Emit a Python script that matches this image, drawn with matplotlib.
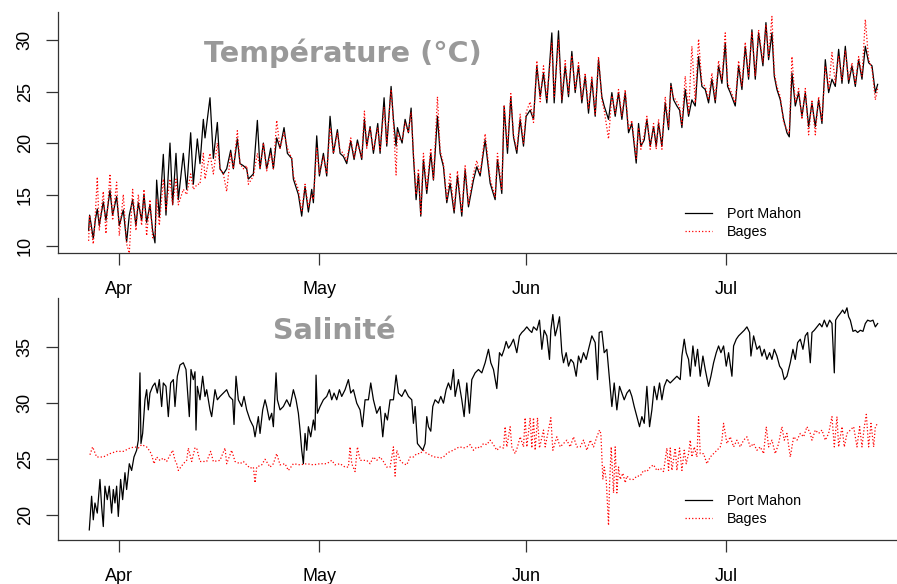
import matplotlib
matplotlib.use("Agg")
import matplotlib.pyplot as plt
import matplotlib.dates as mdates
import numpy as np
import pandas as pd

# --- temperature, days since 1 April ---
temp_days = [-4.6, -4.45, -4.2, -3.9, -3.6, -3.3, -3.0, -2.4, -2.0, -1.4, -1.0, -0.4, 0.0, 0.6, 1.1, 1.5,
             2.0, 2.5, 2.85, 3.35, 3.7, 4.1, 4.6, 5.0, 5.35, 5.6, 6.0, 6.6, 7.0, 7.6, 8.0, 8.5, 8.85, 9.6,
             10.1, 10.7, 11.1, 11.7, 12.1, 12.6, 12.85, 13.6, 14.1, 14.7, 15.1, 15.6, 16.1, 16.7, 17.1, 17.7,
             18.1, 18.6, 19.1, 19.35, 20.1, 20.7, 21.1, 21.6, 22.1, 22.7, 23.1, 23.6, 24.1, 24.7, 25.2, 25.85,
             26.1, 26.85, 27.35, 27.85, 28.35, 28.85, 29.1, 29.6, 30.0, 30.6, 31.1, 31.6, 32.1, 32.7, 33.1,
             33.6, 34.1, 34.7, 35.2, 35.7, 36.35, 36.75, 37.1, 37.6, 38.1, 38.75, 39.1, 39.7, 40.1, 40.75,
             41.1, 41.5, 41.7, 42.1, 42.4, 42.85, 43.35, 43.75, 44.1, 44.5, 44.85, 45.2, 45.6, 46.1, 46.7,
             47.1, 47.7, 48.1, 48.6, 49.1, 49.6, 50.2, 50.7, 51.35, 51.85, 52.35, 53.1, 53.6, 54.1, 54.85,
             55.6, 56.35, 56.7, 57.35, 57.7, 58.2, 58.7, 59.1, 59.6, 60.1, 60.6, 61.0, 61.6, 62.1, 62.6,
             63.1, 63.6, 64.1, 64.85, 65.2, 65.85, 66.35, 66.85, 67.35, 67.85, 68.35, 68.85, 69.35, 69.85,
             70.35, 70.85, 71.35, 71.85, 72.35, 72.7, 73.35, 73.85, 74.35, 74.85, 75.35, 75.85, 76.35, 76.85,
             77.5, 77.85, 78.2, 78.7, 79.1, 79.6, 80.1, 80.5, 80.85, 81.35, 81.85, 82.35, 82.7, 83.1, 83.6,
             84.0, 84.35, 84.85, 85.35, 85.85, 86.35, 86.85, 87.35, 87.85, 88.35, 88.85, 89.35, 89.85, 90.35,
             90.85, 91.2, 91.6, 92.35, 92.85, 93.35, 93.85, 94.35, 94.85, 95.35, 95.85, 96.5, 96.95, 97.35,
             97.85, 98.2, 98.6, 99.1, 99.6, 100.1, 100.45, 100.85, 101.35, 101.85, 102.35, 102.85, 103.35,
             103.85, 104.35, 104.85, 105.35, 105.85, 106.35, 106.85, 107.35, 107.85, 108.35, 108.85, 109.35,
             109.85, 110.35, 110.85, 111.35, 111.85, 112.35, 112.85, 113.35, 113.7]

temp_mahon = [11.5, 13.0, 12.0, 10.7, 12.5, 13.6, 12.0, 14.3, 12.5, 15.4, 13.0, 14.8, 12.0, 13.5, 10.4, 13.0,
              14.5, 12.0, 14.2, 12.5, 15.0, 12.3, 14.0, 11.5, 10.3, 16.4, 12.8, 18.9, 13.0, 20.0, 14.0, 19.0, 14.5, 19.0,
              15.5, 21.0, 16.0, 20.4, 18.0, 22.3, 20.5, 24.4, 18.5, 22.0, 17.5, 17.0, 17.5, 19.3, 17.5, 20.4,
              18.0, 17.8, 17.5, 16.5, 17.0, 22.2, 17.5, 20.0, 17.5, 19.5, 17.5, 20.5, 19.5, 21.5, 19.0, 18.5,
              16.5, 15.0, 12.9, 15.8, 13.3, 15.5, 14.2, 20.7, 16.8, 19.0, 16.8, 22.6, 19.0, 21.3, 19.0,
              18.7, 18.0, 20.2, 18.4, 20.3, 18.4, 22.3, 19.7, 21.6, 19.0, 21.9, 19.0, 24.4, 19.7, 25.5,
              22.3, 19.7, 21.5, 20.6, 20.0, 22.3, 21.0, 23.4, 18.7, 14.5, 17.0, 12.9, 18.4, 15.1, 19.0,
              16.4, 22.6, 19.0, 17.7, 14.2, 16.1, 13.2, 16.8, 12.9, 17.4, 13.8, 16.4, 17.7, 16.8, 20.3,
              16.1, 14.5, 18.4, 15.1, 23.6, 19.0, 24.5, 20.6, 19.0, 22.3, 19.7, 22.6, 23.2, 22.3, 27.5,
              24.5, 26.8, 23.9, 30.7, 23.9, 30.9, 23.9, 27.5, 24.5, 28.9, 24.9, 27.5, 23.9, 26.5,
              22.9, 26.2, 22.6, 28.1, 24.5, 23.6, 22.3, 24.9, 22.6, 24.9, 22.3, 24.9, 21.0, 21.9,
              18.05, 21.9, 19.7, 20.3, 22.3, 19.7, 21.6, 19.7, 21.9, 19.7, 23.9, 21.3, 25.8, 24.2, 23.6,
              23.2, 21.5, 25.2, 22.6, 24.2, 23.6, 28.4, 25.5, 25.2, 23.9, 26.2, 23.9, 27.5, 25.8,
              29.7, 25.5, 24.9, 23.6, 27.5, 25.2, 29.4, 26.2, 31.0, 26.2, 30.7, 27.5, 31.7, 28.1,
              30.7, 26.5, 25.2, 24.2, 22.3, 21.0, 20.6, 26.8, 23.6, 24.9, 22.6, 24.9, 21.6,
              23.9, 21.6, 24.2, 21.9, 28.1, 24.9, 26.2, 25.5, 29.1, 25.8, 29.4, 25.8,
              27.5, 25.5, 28.1, 26.2, 29.4, 27.8, 27.5, 24.9, 25.7]

temp_bages = [10.5, 13.0, 11.5, 10.2, 13.0, 16.7, 11.5, 15.3, 11.2, 17.0, 12.5, 16.2, 11.0, 15.0, 10.2, 9.3,
              15.5, 11.5, 15.0, 12.0, 15.5, 11.0, 14.5, 10.8, 11.0, 14.5, 12.0, 16.5, 13.5, 16.5, 14.0, 16.5, 14.0, 15.5,
              15.0, 17.0, 15.5, 16.0, 16.0, 19.0, 16.5, 19.0, 17.0, 20.0, 17.5, 17.0, 15.3, 19.0, 17.5, 21.2,
              18.0, 17.5, 17.8, 16.0, 16.8, 19.0, 17.5, 20.0, 17.3, 19.0, 17.5, 22.2, 19.5, 21.0, 19.5, 18.5,
              16.8, 15.5, 13.3, 16.0, 13.8, 15.0, 14.5, 19.5, 17.0, 18.7, 17.0, 21.5, 19.0, 21.0, 19.3,
              19.0, 18.3, 20.5, 18.6, 20.0, 18.6, 23.1, 19.5, 21.5, 19.3, 21.5, 19.3, 23.5, 20.0, 25.2,
              22.0, 16.9, 21.0, 20.3, 20.3, 22.0, 21.0, 23.0, 19.0, 15.0, 17.5, 13.0, 19.0, 15.5, 19.5,
              16.5, 24.5, 19.3, 18.0, 14.5, 17.0, 13.5, 17.3, 13.2, 17.8, 14.0, 17.0, 18.3, 17.0, 20.9,
              16.5, 14.8, 19.0, 15.5, 23.7, 19.5, 24.8, 20.8, 19.3, 22.8, 20.0, 23.0, 24.0, 22.0, 28.0,
              24.0, 27.5, 24.3, 29.7, 24.5, 30.0, 24.2, 28.0, 24.8, 28.5, 25.2, 27.8, 24.2, 26.8,
              23.3, 26.5, 22.8, 28.4, 24.2, 23.2, 20.4, 24.6, 22.9, 25.2, 22.6, 25.2, 21.3, 22.2,
              18.5, 21.5, 19.4, 20.8, 22.6, 19.4, 21.9, 19.4, 22.3, 19.4, 24.5, 21.6, 25.5, 24.5, 24.0,
              23.5, 21.8, 26.5, 22.9, 29.4, 23.9, 30.1, 25.8, 25.5, 24.2, 26.8, 24.2, 28.0, 26.1,
              30.7, 25.8, 25.2, 23.9, 28.0, 25.5, 29.8, 26.5, 30.8, 26.5, 31.0, 27.8, 31.5, 28.4,
              32.3, 26.8, 25.5, 24.5, 22.0, 21.3, 20.9, 28.4, 23.9, 25.3, 22.3, 25.3, 20.8,
              24.2, 20.8, 24.5, 22.2, 27.5, 25.2, 28.8, 25.8, 28.5, 26.1, 29.0, 26.1,
              27.8, 25.8, 28.4, 26.5, 32.0, 28.1, 27.2, 24.2, 25.3]

# --- salinity, Port Mahon ---
sal_mahon_days = [-4.5, -4.15, -3.9, -3.65, -3.3, -2.9, -2.65, -2.4, -2.15, -1.8, -1.5, -1.15, -0.9, -0.65,
                  -0.4, -0.15, 0.2, 0.5, 0.85, 1.1, 1.5, 1.85, 2.2, 2.6, 2.85, 3.1, 3.25, 3.5, 3.85, 4.1,
                  4.35, 4.6, 5.0, 5.35, 5.7, 6.0, 6.35, 6.6, 7.0, 7.35, 7.7, 8.1, 8.35, 8.7, 9.1, 9.6, 10.0,
                  10.5, 10.75, 11.1, 11.35, 11.5, 11.7, 12.1, 12.5, 12.85, 13.1, 13.6, 13.85, 14.35, 14.7,
                  15.1, 15.6, 16.1, 16.5, 17.0, 17.2, 17.5, 17.85, 18.35, 18.7, 19.1, 19.6, 20.1, 20.35,
                  20.85, 21.1, 21.5, 21.85, 22.1, 22.5, 22.85, 23.1, 23.5, 23.7, 24.1, 24.6, 25.1, 25.6,
                  26.1, 26.5, 26.85, 27.1, 27.35, 27.6, 27.85, 28.1, 28.35, 28.7, 29.1, 29.35, 29.5, 29.7,
                  30.1, 30.6, 31.1, 31.5, 31.85, 32.2, 32.6, 33.0, 33.35, 33.85, 34.35, 34.7, 35.1, 35.6,
                  36.1, 36.45, 36.85, 37.35, 37.7, 38.1, 38.6, 39.1, 39.5, 39.85, 40.2, 40.6, 41.1, 41.5,
                  41.85, 42.35, 42.85, 43.35, 43.85, 44.1, 44.35, 44.7, 45.1, 45.5, 45.85, 46.1, 46.35,
                  46.7, 47.0, 47.35, 47.85, 48.2, 48.6, 49.0, 49.35, 49.7, 50.1, 50.35, 50.85, 51.35, 51.7,
                  52.1, 52.5, 52.85, 53.35, 53.85, 54.35, 54.85, 55.35, 55.7, 56.1, 56.6, 57.0, 57.35, 57.7,
                  58.0, 58.35, 58.7, 59.1, 59.6, 60.0, 60.35, 60.7, 61.1, 61.5, 61.85, 62.1, 62.6, 63.0,
                  63.35, 63.7, 64.1, 64.5, 64.7, 65.0, 65.35, 65.7, 66.0, 66.35, 66.6, 67.0, 67.35, 67.7,
                  68.1, 68.5, 68.85, 69.2, 69.6, 70.0, 70.35, 70.85, 71.35, 71.7, 71.95, 72.35, 72.7, 73.1,
                  73.5, 73.85, 74.2, 74.6, 75.0, 75.35, 75.7, 76.1, 76.5, 76.85, 77.2, 77.6, 78.0, 78.35,
                  78.7, 79.1, 79.5, 79.85, 80.2, 80.6, 81.0, 81.35, 81.7, 82.1, 82.6, 83.1, 83.6, 84.1,
                  84.35, 84.7, 85.0, 85.35, 85.6, 86.0, 86.35, 86.7, 87.1, 87.5, 87.85, 88.35, 88.7, 89.1,
                  89.5, 89.85, 90.2, 90.6, 91.0, 91.35, 91.85, 92.1, 92.5, 92.85, 93.35, 93.7, 94.1, 94.5,
                  94.7, 95.1, 95.6, 96.0, 96.35, 96.7, 97.1, 97.5, 97.85, 98.2, 98.6, 99.0, 99.35, 99.7,
                  100.1, 100.6, 101.0, 101.35, 101.7, 102.1, 102.5, 102.85, 103.2, 103.6, 103.85, 104.2,
                  104.6, 105.0, 105.35, 105.7, 106.1, 106.5, 106.85, 107.2, 107.4, 107.7, 108.1, 108.45,
                  108.75, 109.1, 109.35, 109.6, 110.0, 110.35, 110.7, 111.1, 111.5, 111.85, 112.2, 112.6,
                  113.0, 113.35, 113.7]

sal_mahon = [18.7, 21.7, 19.6, 21.1, 20.2, 23.2, 20.8, 19.0, 22.6, 21.4, 22.6, 20.2, 22.3, 21.1,
             22.6, 19.9, 23.2, 21.4, 23.8, 22.3, 24.6, 24.0, 25.2, 25.8, 26.7, 32.7, 26.4, 27.3, 30.3, 31.2,
             29.4, 30.9, 31.5, 31.8, 30.9, 32.1, 29.7, 31.8, 31.5, 28.8, 31.8, 32.1, 29.7, 32.4, 33.4, 33.6, 33.0,
             28.8, 33.0, 32.1, 32.8, 27.6, 31.5, 30.3, 32.4, 30.6, 31.2, 29.4, 28.8, 31.2, 30.3,
             30.6, 30.9, 31.2, 30.6, 30.3, 28.1, 32.4, 30.3, 29.7, 30.6, 29.4, 28.5, 27.9, 27.0,
             28.8, 27.3, 29.4, 30.3, 29.7, 28.5, 29.1, 27.9, 32.7, 30.3, 29.4, 29.7, 30.3, 29.7,
             31.2, 30.3, 29.1, 27.6, 25.8, 24.6, 27.3, 25.8, 27.9, 27.0, 28.5, 27.6, 32.5, 29.1,
             29.7, 30.3, 30.6, 31.2, 30.3, 30.9, 30.3, 31.2, 30.6, 31.2, 32.1, 30.9, 31.2, 30.0,
             29.4, 27.9, 30.3, 30.3, 31.8, 30.3, 29.1, 29.7, 27.0, 29.1, 28.5, 30.3, 30.3, 32.5,
             30.9, 30.6, 31.2, 30.6, 30.3, 28.2, 29.7, 26.4, 26.1, 25.8, 26.4, 28.8, 27.9,
             27.5, 29.7, 30.3, 30.0, 30.6, 30.0, 31.2, 31.8, 31.2, 33.0, 30.6, 32.1, 30.3, 28.8,
             31.8, 29.1, 32.1, 32.7, 33.0, 32.7, 33.6, 34.8, 33.6, 33.0, 31.3, 34.5, 34.2, 34.8,
             35.5, 34.9, 35.2, 35.7, 34.5, 36.0, 36.3, 36.5, 36.8, 36.5, 36.3, 36.8, 36.5, 37.4,
             34.8, 36.5, 36.0, 33.9, 36.5, 37.9, 36.0, 36.8, 37.7, 34.5, 33.6, 34.5, 33.3, 33.9,
             33.6, 32.4, 34.2, 33.6, 34.5, 33.9, 34.8, 36.0, 35.4, 32.1, 36.3, 36.4, 34.5, 34.8,
             32.1, 29.7, 31.8, 29.4, 31.5, 30.9, 30.3, 30.9, 31.2, 30.6, 29.7, 28.8, 27.9, 28.8,
             28.2, 31.5, 27.9, 29.4, 31.5, 30.3, 31.8, 30.3, 31.5, 32.1, 31.8, 32.1, 32.4, 32.1,
             34.2, 35.7, 34.5, 33.9, 32.4, 35.1, 33.3, 34.8, 32.4, 34.2, 33.0, 31.5, 32.4, 33.6,
             34.5, 35.1, 34.5, 35.1, 33.3, 34.5, 32.4, 35.1, 35.7, 36.0, 36.3, 36.5, 36.8, 36.3,
             34.2, 36.0, 34.8, 35.1, 34.2, 34.8, 33.9, 34.5, 33.9, 34.8, 34.2, 33.3, 33.0, 32.1,
             32.4, 33.6, 34.8, 33.9, 35.4, 35.7, 34.8, 36.0, 36.3, 33.6, 36.3, 36.5,
             36.8, 37.1, 36.8, 37.4, 36.8, 37.4, 37.1, 32.7, 37.4, 37.7, 38.0, 38.3,
             38.0, 38.5, 37.7, 37.4, 36.4, 36.5, 36.3, 36.5, 36.4, 37.1, 37.4, 37.3,
             37.4, 36.8, 37.1]

# --- salinity, Bages ---
sal_bages_days = [-4.4, -4.0, -3.4, -2.4, -1.4, -0.4, 0.6, 1.6, 2.35, 2.85, 3.35, 4.1, 4.6, 4.85, 5.2, 5.6,
                  6.1, 6.6, 7.1, 8.0, 8.35, 8.6, 8.85, 9.6, 10.1, 10.35, 10.85, 11.35, 11.6, 12.1, 13.1, 13.7,
                  14.1, 15.1, 15.85, 16.1, 16.85, 17.35, 18.1, 18.6, 19.1, 19.6, 20.1, 20.35, 20.6, 21.35,
                  21.85, 22.6, 23.1, 23.6, 24.1, 24.85, 25.35, 26.1, 27.1, 28.1, 29.1, 30.1, 31.1, 31.85,
                  32.35, 33.1, 33.85, 34.35, 34.6, 34.85, 35.35, 35.7, 36.1, 36.6, 37.1, 37.6, 38.1, 38.6,
                  39.1, 39.6, 40.1, 40.6, 41.1, 41.35, 41.6, 42.1, 42.6, 43.1, 43.6, 44.1, 44.6, 45.1, 45.6,
                  46.1, 46.6, 47.1, 47.6, 48.1, 48.6, 49.1, 49.6, 50.1, 50.6, 51.1, 51.6, 52.1, 52.6, 53.1,
                  53.6, 54.1, 54.6, 55.1, 55.6, 56.1, 56.6, 57.1, 57.6, 57.85, 58.1, 58.6, 58.85, 59.35,
                  59.7, 60.1, 60.6, 60.85, 61.1, 61.6, 61.85, 62.1, 62.35, 62.7, 63.0, 63.6, 63.85, 64.35,
                  64.7, 65.0, 65.6, 66.1, 66.6, 67.1, 67.6, 68.1, 68.6, 69.1, 69.6, 70.1, 70.6, 71.1, 71.6,
                  72.0, 72.2, 72.5, 72.7, 73.0, 73.35, 73.5, 73.75, 74.1, 74.35, 74.6, 74.85, 75.1, 75.5,
                  75.85, 76.1, 76.6, 77.1, 77.6, 78.1, 78.6, 79.1, 79.6, 80.1, 80.6, 81.1, 81.6, 82.1,
                  82.35, 82.6, 82.85, 83.35, 83.6, 84.0, 84.35, 84.7, 85.0, 85.35, 85.6, 85.85, 86.2, 86.6,
                  86.85, 87.1, 87.6, 88.1, 88.6, 89.1, 89.6, 90.1, 90.35, 90.6, 91.1, 91.6, 92.1, 92.6,
                  93.1, 93.6, 94.1, 94.6, 95.1, 95.6, 96.1, 96.6, 97.0, 97.35, 97.85, 98.35, 98.85, 99.35,
                  99.7, 100.1, 100.6, 101.1, 101.6, 102.1, 102.6, 103.1, 103.6, 103.85, 104.35, 104.85,
                  105.35, 105.85, 106.35, 106.85, 107.2, 107.6, 107.85, 108.35, 108.7, 109.1, 109.6,
                  110.1, 110.6, 111.0, 111.35, 111.7, 112.0, 112.35, 112.7, 113.1, 113.35, 113.7]

sal_bages = [25.4, 26.1, 25.2, 25.2, 25.5, 25.7, 25.7, 26.0, 26.1, 26.0, 26.3, 26.1, 25.7, 25.4, 24.6, 25.2,
             24.9, 25.1, 24.8, 25.8, 24.9, 24.6, 24.0, 24.6, 24.9, 26.0, 24.8, 26.0, 26.0, 24.8, 24.8, 25.7,
             24.8, 24.9, 26.0, 24.6, 25.8, 24.8, 24.6, 24.8, 24.5, 24.2, 24.3, 22.9, 24.3, 24.5,
             25.0, 24.3, 24.6, 25.5, 24.5, 24.6, 24.0, 24.6, 24.5, 24.6, 24.5, 24.6, 24.6, 24.9,
             24.5, 24.6, 24.3, 24.3, 26.1, 24.6, 23.9, 26.1, 24.9, 24.9, 24.9, 24.6, 25.2, 24.9,
             25.2, 24.8, 24.3, 24.3, 26.1, 23.5, 25.8, 24.9, 24.6, 24.5, 25.2, 25.2, 25.5, 25.5, 25.8,
             25.5, 25.4, 25.2, 25.2, 25.1, 25.2, 25.5, 25.7, 25.8, 26.0, 26.1, 26.0, 26.1, 26.3, 25.8,
             26.1, 26.0, 26.4, 26.3, 26.7, 26.3, 25.8, 26.1, 26.0, 27.9, 26.1, 27.9, 26.1, 25.5,
             26.1, 27.0, 26.1, 28.7, 26.1, 28.7, 26.0, 28.7, 25.8, 28.7, 26.0, 27.6, 26.1, 27.6,
             28.7, 25.8, 27.0, 26.1, 26.4, 26.7, 26.1, 27.0, 26.1, 26.1, 26.7, 25.8, 26.7, 26.1, 27.0,
             27.6, 27.3, 23.2, 24.3, 23.2, 19.1, 22.7, 26.1, 22.0, 26.1, 22.0, 24.3, 23.2, 23.75,
             22.9, 23.5, 23.2, 23.2, 23.5, 23.5, 24.0, 23.9, 24.3, 24.5, 24.0, 24.2, 23.9, 26.0,
             24.0, 26.0, 24.0, 26.0, 24.0, 26.0, 24.0, 25.8, 24.6, 25.5, 26.7, 25.2, 26.1, 25.2,
             28.8, 25.5, 25.5, 24.6, 25.2, 25.5, 25.8, 26.1, 26.7, 28.2, 26.4, 27.0, 26.1, 26.7,
             26.1, 26.7, 27.0, 26.1, 26.4, 25.8, 26.1, 25.5, 27.9, 26.1, 26.7, 25.5, 26.4, 27.9,
             26.7, 27.3, 25.2, 27.0, 26.7, 27.3, 27.0, 27.9, 27.3, 26.7, 27.6, 27.3,
             27.6, 26.7, 27.3, 28.8, 26.1, 28.8, 26.1, 27.9, 26.1, 27.3, 27.6,
             27.9, 26.1, 27.9, 26.1, 27.9, 29.0, 26.1, 28.2, 26.1, 27.9, 28.2]

series_labels = ["Port Mahon", "Bages"]
panel_titles = ["Température (°C)", "Salinité"]
temp_ticks = [10, 15, 20, 25, 30]
sal_ticks = [20, 25, 30, 35]

origin = mdates.date2num(pd.Timestamp("2014-04-01"))


def to_x(days):
    return origin + np.asarray(days, dtype=float)


fig = plt.figure(figsize=(8.97, 5.84), dpi=100)
ax1 = fig.add_axes([58 / 897, 1 - 253 / 584, 1 - 58 / 897, 241 / 584])
ax2 = fig.add_axes([58 / 897, 1 - 540 / 584, 1 - 58 / 897, 242 / 584])

tick_font = {"family": ["Liberation Sans", "DejaVu Sans"], "size": 13}


def style_axes(ax, yticks, ylim, title, tx, ty):
    ax.set_xlim(to_x([-9.19])[0], to_x([116.6])[0])
    ax.set_ylim(*ylim)
    ax.set_yticks(yticks)
    for s in ["top", "right"]:
        ax.spines[s].set_visible(False)
    for s in ["left", "bottom"]:
        ax.spines[s].set_color("#333333")
        ax.spines[s].set_linewidth(0.9)
    ax.xaxis.set_major_locator(mdates.MonthLocator(bymonth=[4, 5, 6, 7]))
    ax.xaxis.set_major_formatter(mdates.DateFormatter("%b"))
    ax.tick_params(axis="both", direction="out", length=8.5, width=0.9, color="#333333")
    ax.tick_params(axis="x", pad=12)
    ax.tick_params(axis="y", pad=9)
    for lab in ax.get_xticklabels() + ax.get_yticklabels():
        lab.set_fontfamily(tick_font["family"])
        lab.set_fontsize(tick_font["size"])
    for lab in ax.get_yticklabels():
        lab.set_rotation(90)
        lab.set_va("center")
    ax.text(tx, ty, title, transform=ax.transAxes, ha="center", va="center",
            fontsize=20.6, fontweight="bold", color="#999999", family="DejaVu Sans")
    ax.legend(loc="upper left", bbox_to_anchor=(0.7475, 0.19), frameon=False,
              prop={"family": ["Liberation Sans", "DejaVu Sans"], "size": 10.3},
              handlelength=1.9, handletextpad=1.0, labelspacing=0.28, borderpad=0,
              borderaxespad=0)


ax1.plot(to_x(temp_days), temp_mahon, color="black", lw=0.9, label=series_labels[0])
ax1.plot(to_x(temp_days), temp_bages, color="red", lw=0.9, ls=":", label=series_labels[1])
style_axes(ax1, temp_ticks, (9.32, 32.73), panel_titles[0], 0.34, 0.83)

ax2.plot(to_x(sal_mahon_days), sal_mahon, color="black", lw=0.9, label=series_labels[0])
ax2.plot(to_x(sal_bages_days), sal_bages, color="red", lw=0.9, ls=":", label=series_labels[1])
style_axes(ax2, sal_ticks, (17.8, 39.375), panel_titles[1], 0.329, 0.864)

fig.savefig("out.png", dpi=100)
